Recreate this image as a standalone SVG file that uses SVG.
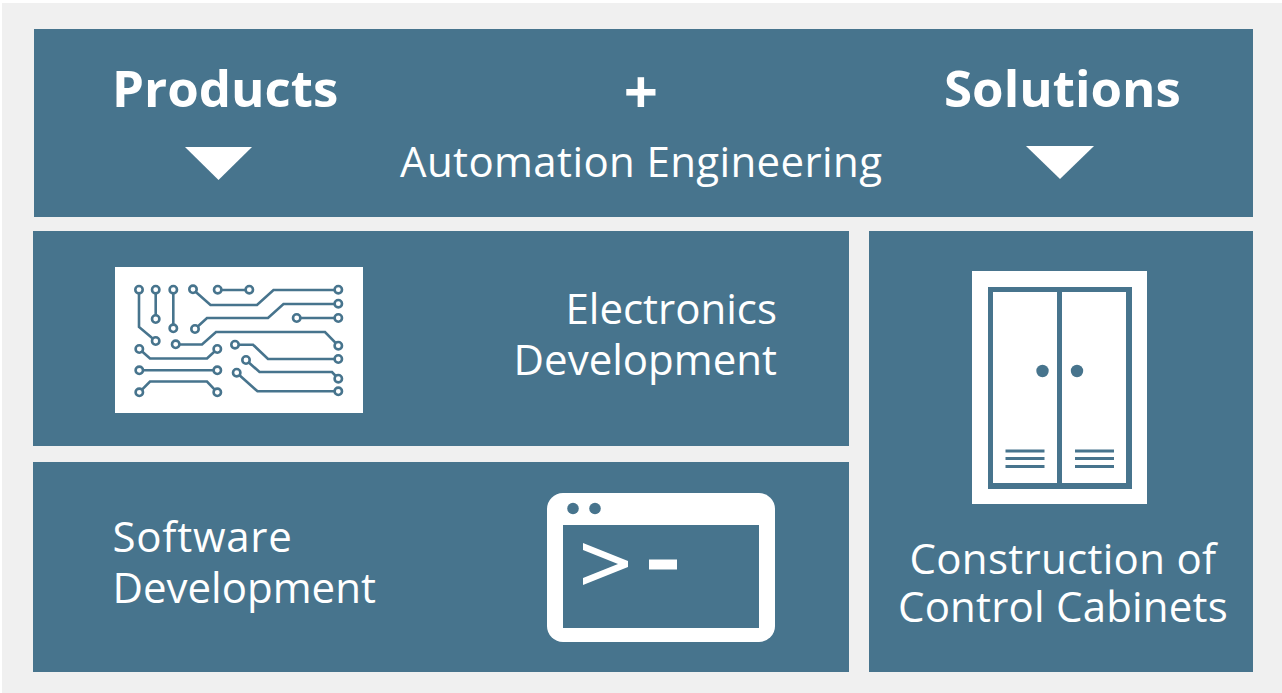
<svg xmlns="http://www.w3.org/2000/svg" width="1282" height="693" viewBox="0 0 1282 693">
<style>
.p{fill:#47748d}
.w{fill:#fff}
text{fill:#fff;font-family:"Open Sans","Noto Sans",sans-serif}
.h{font-weight:700;font-size:51px}
.t{font-size:42px}
.tr{fill:none;stroke:#47748d;stroke-width:2.6}
.c{fill:#fff;stroke:#47748d;stroke-width:2.6}
</style>
<rect width="1282" height="693" fill="#fff"/>
<rect x="2" y="3" width="1280" height="690" fill="#f0f0f0"/>
<g id="header">
<rect class="p" x="34" y="29" width="1219" height="188"/>
<text class="h" x="112" y="107">Products</text>
<text class="h" x="641" y="114" text-anchor="middle" style="font-size:60px">+</text>
<text class="h" x="944" y="107">Solutions</text>
<text class="t" x="400" y="177" style="letter-spacing:.38px">Automation Engineering</text>
<polygon class="w" points="185,147 252,147 218.500,180"/>
<polygon class="w" points="1026,146 1094,146 1060,179"/>
</g>
<g id="electronics">
<rect class="p" x="33" y="231" width="816" height="215"/>
<rect class="w" x="115" y="267" width="248" height="146"/>
<g class="tr">
<path d="M139 290V327L155.700 341M155.700 290V319M173.300 290V328M193 289.500L210.500 305H257L273.500 290H338M217.700 290H249.300M195 329L207 318H268L283.500 304H338M296.700 318H338M175.700 344.500H202L216 332H325L338.300 345.700M139.300 349L150 358.500H207L217.300 349M235 344.700H253L268 359H338M246 360L259.500 372H332L338.300 378.700M139.300 370.300H217.300M236.700 372.700L257.500 391.300H338M139.300 392.300L150 381.500H207L217.300 392.300"/>
</g>
<g class="c">
<circle cx="139" cy="289.700" r="3.700"/><circle cx="155.700" cy="289.700" r="3.700"/><circle cx="173.300" cy="289.700" r="3.700"/><circle cx="193" cy="289.300" r="3.700"/><circle cx="217.700" cy="289.700" r="3.700"/><circle cx="249.300" cy="289.700" r="3.700"/><circle cx="338.300" cy="289.700" r="3.700"/><circle cx="338.300" cy="303.700" r="3.700"/><circle cx="338.300" cy="318" r="3.700"/><circle cx="296.700" cy="318" r="3.700"/><circle cx="155.700" cy="319" r="3.700"/><circle cx="173.300" cy="328.300" r="3.700"/><circle cx="195" cy="329" r="3.700"/><circle cx="155.700" cy="341" r="3.700"/><circle cx="175.700" cy="344.300" r="3.700"/><circle cx="139.300" cy="349" r="3.700"/><circle cx="217.300" cy="349" r="3.700"/><circle cx="235" cy="344.700" r="3.700"/><circle cx="338.300" cy="345.700" r="3.700"/><circle cx="338.300" cy="359" r="3.700"/><circle cx="246" cy="360" r="3.700"/><circle cx="139.300" cy="370.300" r="3.700"/><circle cx="217.300" cy="370.300" r="3.700"/><circle cx="236.700" cy="372.700" r="3.700"/><circle cx="338.300" cy="378.700" r="3.700"/><circle cx="338.300" cy="391.300" r="3.700"/><circle cx="139.300" cy="392.300" r="3.700"/><circle cx="217.300" cy="392.300" r="3.700"/>
</g>
<text class="t" x="777" y="324" text-anchor="end">Electronics</text>
<text class="t" x="777" y="375" text-anchor="end">Development</text>
</g>
<g id="software">
<rect class="p" x="33" y="462" width="816" height="210"/>
<rect class="w" x="547" y="493" width="228" height="149" rx="16"/>
<rect class="p" x="563" y="525" width="196" height="103"/>
<circle class="p" cx="573" cy="508.500" r="5.800"/>
<circle class="p" cx="595" cy="508.500" r="5.800"/>
<polygon class="w" points="583,543 628,561 628,567 583,585 583,578 618,564 583,550"/>
<rect class="w" x="649" y="559.500" width="28" height="10"/>
<text class="t" x="112.500" y="552" style="letter-spacing:.75px">Software</text>
<text class="t" x="112.500" y="603">Development</text>
</g>
<g id="cabinets">
<rect class="p" x="869" y="231" width="384" height="441"/>
<rect class="w" x="972" y="271" width="175" height="233"/>
<rect class="p" x="988" y="287" width="144" height="202"/>
<rect class="w" x="993" y="292" width="64" height="191"/>
<rect class="w" x="1062" y="292" width="64" height="191"/>
<circle class="p" cx="1042.500" cy="371" r="6.200"/>
<circle class="p" cx="1077" cy="371" r="6.200"/>
<g class="p">
<rect x="1005.500" y="449.500" width="39" height="3"/><rect x="1005.500" y="457" width="39" height="3"/><rect x="1005.500" y="465" width="39" height="3"/>
<rect x="1075" y="449.500" width="39" height="3"/><rect x="1075" y="457" width="39" height="3"/><rect x="1075" y="465" width="39" height="3"/>
</g>
<text class="t" x="1063" y="574" text-anchor="middle" style="letter-spacing:.3px">Construction of</text>
<text class="t" x="1063" y="622" text-anchor="middle" style="letter-spacing:.2px">Control Cabinets</text>
</g>
</svg>
